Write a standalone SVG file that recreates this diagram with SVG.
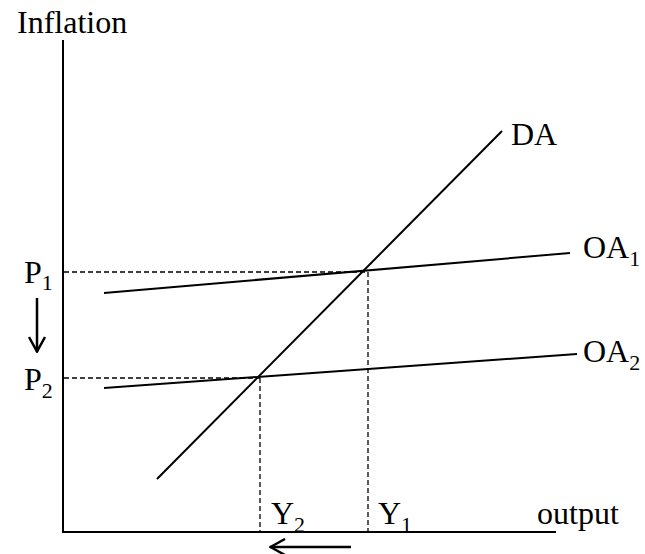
<svg xmlns="http://www.w3.org/2000/svg" width="645" height="554" viewBox="0 0 645 554">
<defs>
<style>
.t{font-family:"Liberation Serif","Times New Roman",serif;font-size:32px;fill:#000}
.s{font-size:22px}
.ln{stroke:#000;stroke-width:2;fill:none}
.ar{stroke:#000;stroke-width:2.5;fill:none}
.ds{stroke:#000;stroke-width:1.3;stroke-dasharray:5,3;fill:none}
</style>
<marker id="ah" viewBox="0 0 18 18" refX="17" refY="9" markerWidth="18" markerHeight="18" markerUnits="userSpaceOnUse" orient="auto">
<path d="M2,1 L16.5,9 L2,17" fill="none" stroke="#000" stroke-width="2.5"/>
</marker>
</defs>
<rect width="645" height="554" fill="#fff"/>
<g id="axes">
<line class="ln" x1="63" y1="40" x2="63" y2="533"/>
<line class="ln" x1="62" y1="532" x2="556" y2="532"/>
</g>
<g id="connectors">
<line class="ds" x1="64" y1="272" x2="368" y2="272"/>
<line class="ds" x1="64" y1="378" x2="260" y2="378"/>
<line class="ds" x1="368" y1="272" x2="368" y2="531"/>
<line class="ds" x1="260" y1="378" x2="260" y2="531"/>
<line class="ar" x1="37" y1="298" x2="37" y2="352" marker-end="url(#ah)"/>
<line class="ar" x1="351" y1="547" x2="270" y2="547" marker-end="url(#ah)"/>
</g>
<g id="DA">
<line class="ln" x1="157" y1="479" x2="502" y2="131"/>
<text class="t" x="511" y="145">DA</text>
</g>
<g id="OA1">
<line class="ln" x1="104" y1="293" x2="570" y2="253"/>
<text class="t" x="583" y="258">OA<tspan class="s" dy="8">1</tspan></text>
</g>
<g id="OA2">
<line class="ln" x1="104" y1="388" x2="577" y2="354"/>
<text class="t" x="583" y="362">OA<tspan class="s" dy="8">2</tspan></text>
</g>
<g id="labels">
<text class="t" x="17" y="33">Inflation</text>
<text class="t" x="537" y="524">output</text>
<text class="t" x="24" y="283">P<tspan class="s" dy="7">1</tspan></text>
<text class="t" x="24" y="390">P<tspan class="s" dy="8">2</tspan></text>
<text class="t" x="271" y="524">Y<tspan class="s" dy="8">2</tspan></text>
<text class="t" x="378" y="524">Y<tspan class="s" dy="8">1</tspan></text>
</g>
</svg>
